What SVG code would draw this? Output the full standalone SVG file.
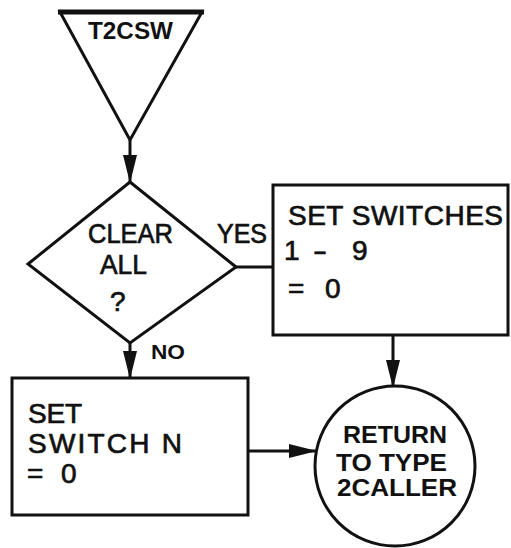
<svg xmlns="http://www.w3.org/2000/svg" width="511" height="548" viewBox="0 0 511 548">
<style>
.sh{fill:#fff;stroke:#111;stroke-width:3;stroke-linejoin:miter}
.ln{fill:none;stroke:#111;stroke-width:3}
.t{font-family:"Liberation Sans","Arial",sans-serif;font-size:28px;fill:#111;stroke:#111;stroke-width:0.7}
.b{font-family:"Liberation Sans","Arial",sans-serif;font-weight:bold;fill:#111}
</style>
<defs>
<marker id="arr" viewBox="0 0 28 14" refX="27" refY="7" markerWidth="28" markerHeight="14" markerUnits="userSpaceOnUse" orient="auto">
<path d="M0,0 L28,7 L0,14 z" fill="#111"/>
</marker>
</defs>
<rect width="511" height="548" fill="#fff"/>
<g id="connectors">
<line class="ln" x1="130" y1="140" x2="130" y2="182" marker-end="url(#arr)"/>
<line class="ln" x1="236" y1="267" x2="273" y2="267"/>
<line class="ln" x1="130" y1="343" x2="130" y2="378" marker-end="url(#arr)"/>
<line class="ln" x1="393" y1="335" x2="393" y2="387" marker-end="url(#arr)"/>
<line class="ln" x1="248" y1="451" x2="316" y2="451" marker-end="url(#arr)"/>
</g>
<g id="start">
<polygon class="sh" points="60,12 202,12 130,140"/>
<line x1="58" y1="12" x2="204" y2="12" stroke="#111" stroke-width="5"/>
<text class="b" x="88" y="39" font-size="24" textLength="85" lengthAdjust="spacingAndGlyphs">T2CSW</text>
</g>
<g id="decision">
<polygon class="sh" points="130,182 236,267 130,343 28,264"/>
<text class="t" x="88" y="243" textLength="85" lengthAdjust="spacingAndGlyphs">CLEAR</text>
<text class="t" x="100" y="274" textLength="47" lengthAdjust="spacingAndGlyphs">ALL</text>
<text class="t" x="110" y="311" font-size="33">?</text>
<text class="t" x="217" y="243" textLength="50" lengthAdjust="spacingAndGlyphs">YES</text>
<text class="b" x="151" y="359" font-size="20" textLength="34" lengthAdjust="spacingAndGlyphs">NO</text>
</g>
<g id="set-all">
<rect class="sh" x="273" y="185" width="235" height="150"/>
<text class="t" x="288" y="225" textLength="215" lengthAdjust="spacing">SET SWITCHES</text>
<text class="t" x="284" y="260">1</text>
<text class="t" x="313" y="260" textLength="14" lengthAdjust="spacingAndGlyphs">-</text>
<text class="t" x="352" y="260">9</text>
<text class="t" x="288" y="298" font-size="20">=</text>
<text class="t" x="325" y="298">0</text>
</g>
<g id="set-n">
<rect class="sh" x="12" y="378" width="236" height="137"/>
<text class="t" x="28" y="423" textLength="54" lengthAdjust="spacing">SET</text>
<text class="t" x="28" y="453" textLength="154" lengthAdjust="spacing">SWITCH N</text>
<text class="t" x="27" y="483" font-size="20">=</text>
<text class="t" x="61" y="483">0</text>
</g>
<g id="return">
<circle class="sh" cx="395" cy="466" r="80"/>
<text class="b" x="343" y="443" font-size="23" textLength="104" lengthAdjust="spacingAndGlyphs">RETURN</text>
<text class="b" x="336" y="471" font-size="23" textLength="111" lengthAdjust="spacingAndGlyphs">TO TYPE</text>
<text class="b" x="337" y="496" font-size="23" textLength="120" lengthAdjust="spacingAndGlyphs">2CALLER</text>
</g>
</svg>
